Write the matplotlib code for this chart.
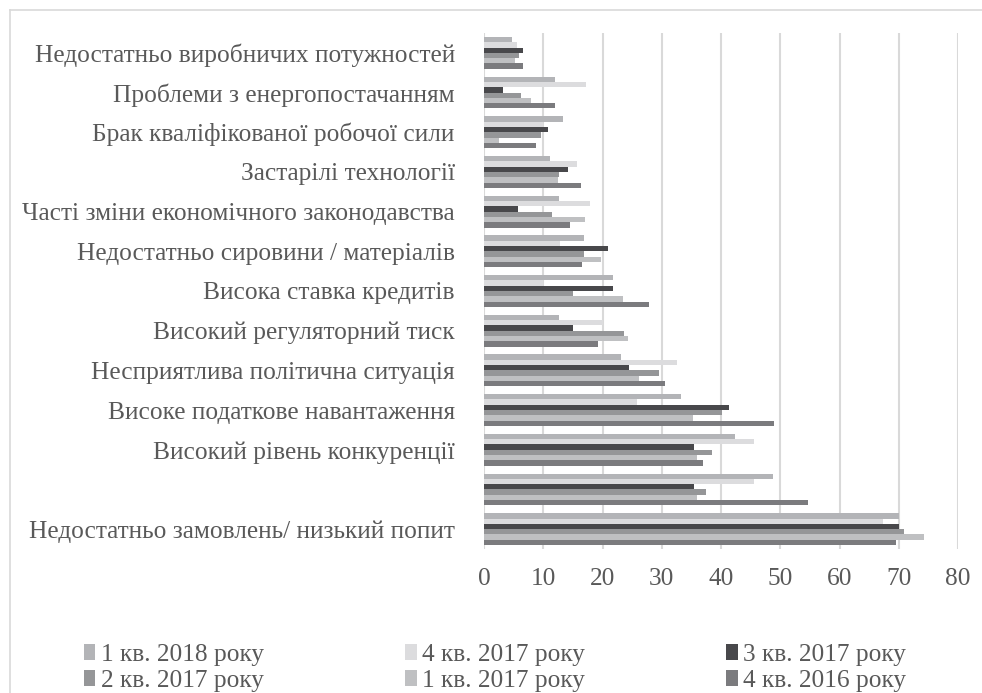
import matplotlib
matplotlib.use("Agg")
import matplotlib.pyplot as plt
import numpy as np

plt.rcParams['font.family'] = ['Liberation Serif', 'DejaVu Serif']

categories = [
    "Недостатньо виробничих потужностей",
    "Проблеми з енергопостачанням",
    "Брак кваліфікованої робочої сили",
    "Застарілі технології",
    "Часті зміни економічного законодавства",
    "Недостатньо сировини / матеріалів",
    "Висока ставка кредитів",
    "Високий регуляторний тиск",
    "Несприятлива політична ситуація",
    "Високе податкове навантаження",
    "Високий рівень конкуренції",
    "",
    "Недостатньо замовлень/ низький попит",
]

series_names = ["1 кв. 2018 року", "4 кв. 2017 року", "3 кв. 2017 року",
                "2 кв. 2017 року", "1 кв. 2017 року", "4 кв. 2016 року"]

q1_2018 = [4.7, 11.9, 13.3, 11.2, 12.6, 16.9, 21.8, 12.6, 23.2, 33.2, 42.4, 48.8, 70.1]
q4_2017 = [5.5, 17.2, 10.0, 15.7, 17.9, 12.8, 10.0, 20.0, 32.5, 25.9, 45.5, 45.5, 67.3]
q3_2017 = [6.6, 3.2, 10.8, 14.2, 5.8, 21.0, 21.8, 15.1, 24.4, 41.3, 35.4, 35.4, 70.1]
q2_2017 = [5.9, 6.2, 9.7, 12.6, 11.5, 16.9, 15.1, 23.6, 29.5, 40.1, 38.5, 37.4, 70.9]
q1_2017 = [5.2, 8.0, 2.5, 12.5, 17.0, 19.7, 23.4, 24.3, 26.1, 35.2, 36.0, 36.0, 74.3]
q4_2016 = [6.6, 12.0, 8.8, 16.4, 14.5, 16.5, 27.9, 19.3, 30.6, 49.0, 37.0, 54.6, 69.5]

series = [q1_2018, q4_2017, q3_2017, q2_2017, q1_2017, q4_2016]
colors = ['#b3b4b7', '#dcdcde', '#48484b', '#959698', '#bfc0c2', '#7b7b7e']

xticks = [0, 10, 20, 30, 40, 50, 60, 70, 80]

FS = 18.3
fig = plt.figure(figsize=(9.82, 6.93), dpi=100)
W, H = 982, 693
ax = fig.add_axes([484 / W, 1 - 549 / H, (958 - 484) / W, (549 - 33) / H])

n = len(categories)
centers = np.arange(n)  # index 0 at top (inverted axis)
bh = 0.134
offsets = (np.arange(6) - 2.5) * bh
handles = []
for k, (vals, col, name) in enumerate(zip(series, colors, series_names)):
    b = ax.barh(centers + offsets[k], vals, height=bh, color=col, label=name,
                edgecolor='none', zorder=3)
    handles.append(b)

ax.set_ylim(n - 0.5, -0.5)
ax.set_xlim(0, 80)
ax.set_xticks(xticks)
ax.set_yticks(centers)
ax.set_yticklabels(categories)
ax.tick_params(axis='y', length=0, pad=21, labelsize=FS, labelcolor='#595959')
ax.tick_params(axis='x', length=0, pad=14, labelsize=FS, labelcolor='#595959')
ax.grid(axis='x', color='#d9d9d9', linewidth=1.5, zorder=0)
for s in ax.spines.values():
    s.set_visible(False)

# chart area border (left and top visible)
fig.add_artist(plt.Line2D([10 / W, 10 / W], [0, 1 - 10 / H], transform=fig.transFigure,
                          color='#d9d9d9', linewidth=1.2))
fig.add_artist(plt.Line2D([10 / W, 1], [1 - 10 / H, 1 - 10 / H], transform=fig.transFigure,
                          color='#d9d9d9', linewidth=1.2))

# legend filled row-wise (matplotlib fills column-wise, so reorder)
order = [0, 3, 1, 4, 2, 5]
leg = fig.legend([handles[i] for i in order], [series_names[i] for i in order],
                 ncol=3, loc='lower left',
                 bbox_to_anchor=(84 / W, 1 / H, (982 - 160) / W, 60 / H),
                 mode='expand', frameon=False, fontsize=FS, handlelength=0.45,
                 handleheight=0.6, handletextpad=0.2, labelspacing=0.15,
                 borderaxespad=0.0, borderpad=0.0)
for t in leg.get_texts():
    t.set_color('#595959')

fig.savefig('out.png', dpi=100)
